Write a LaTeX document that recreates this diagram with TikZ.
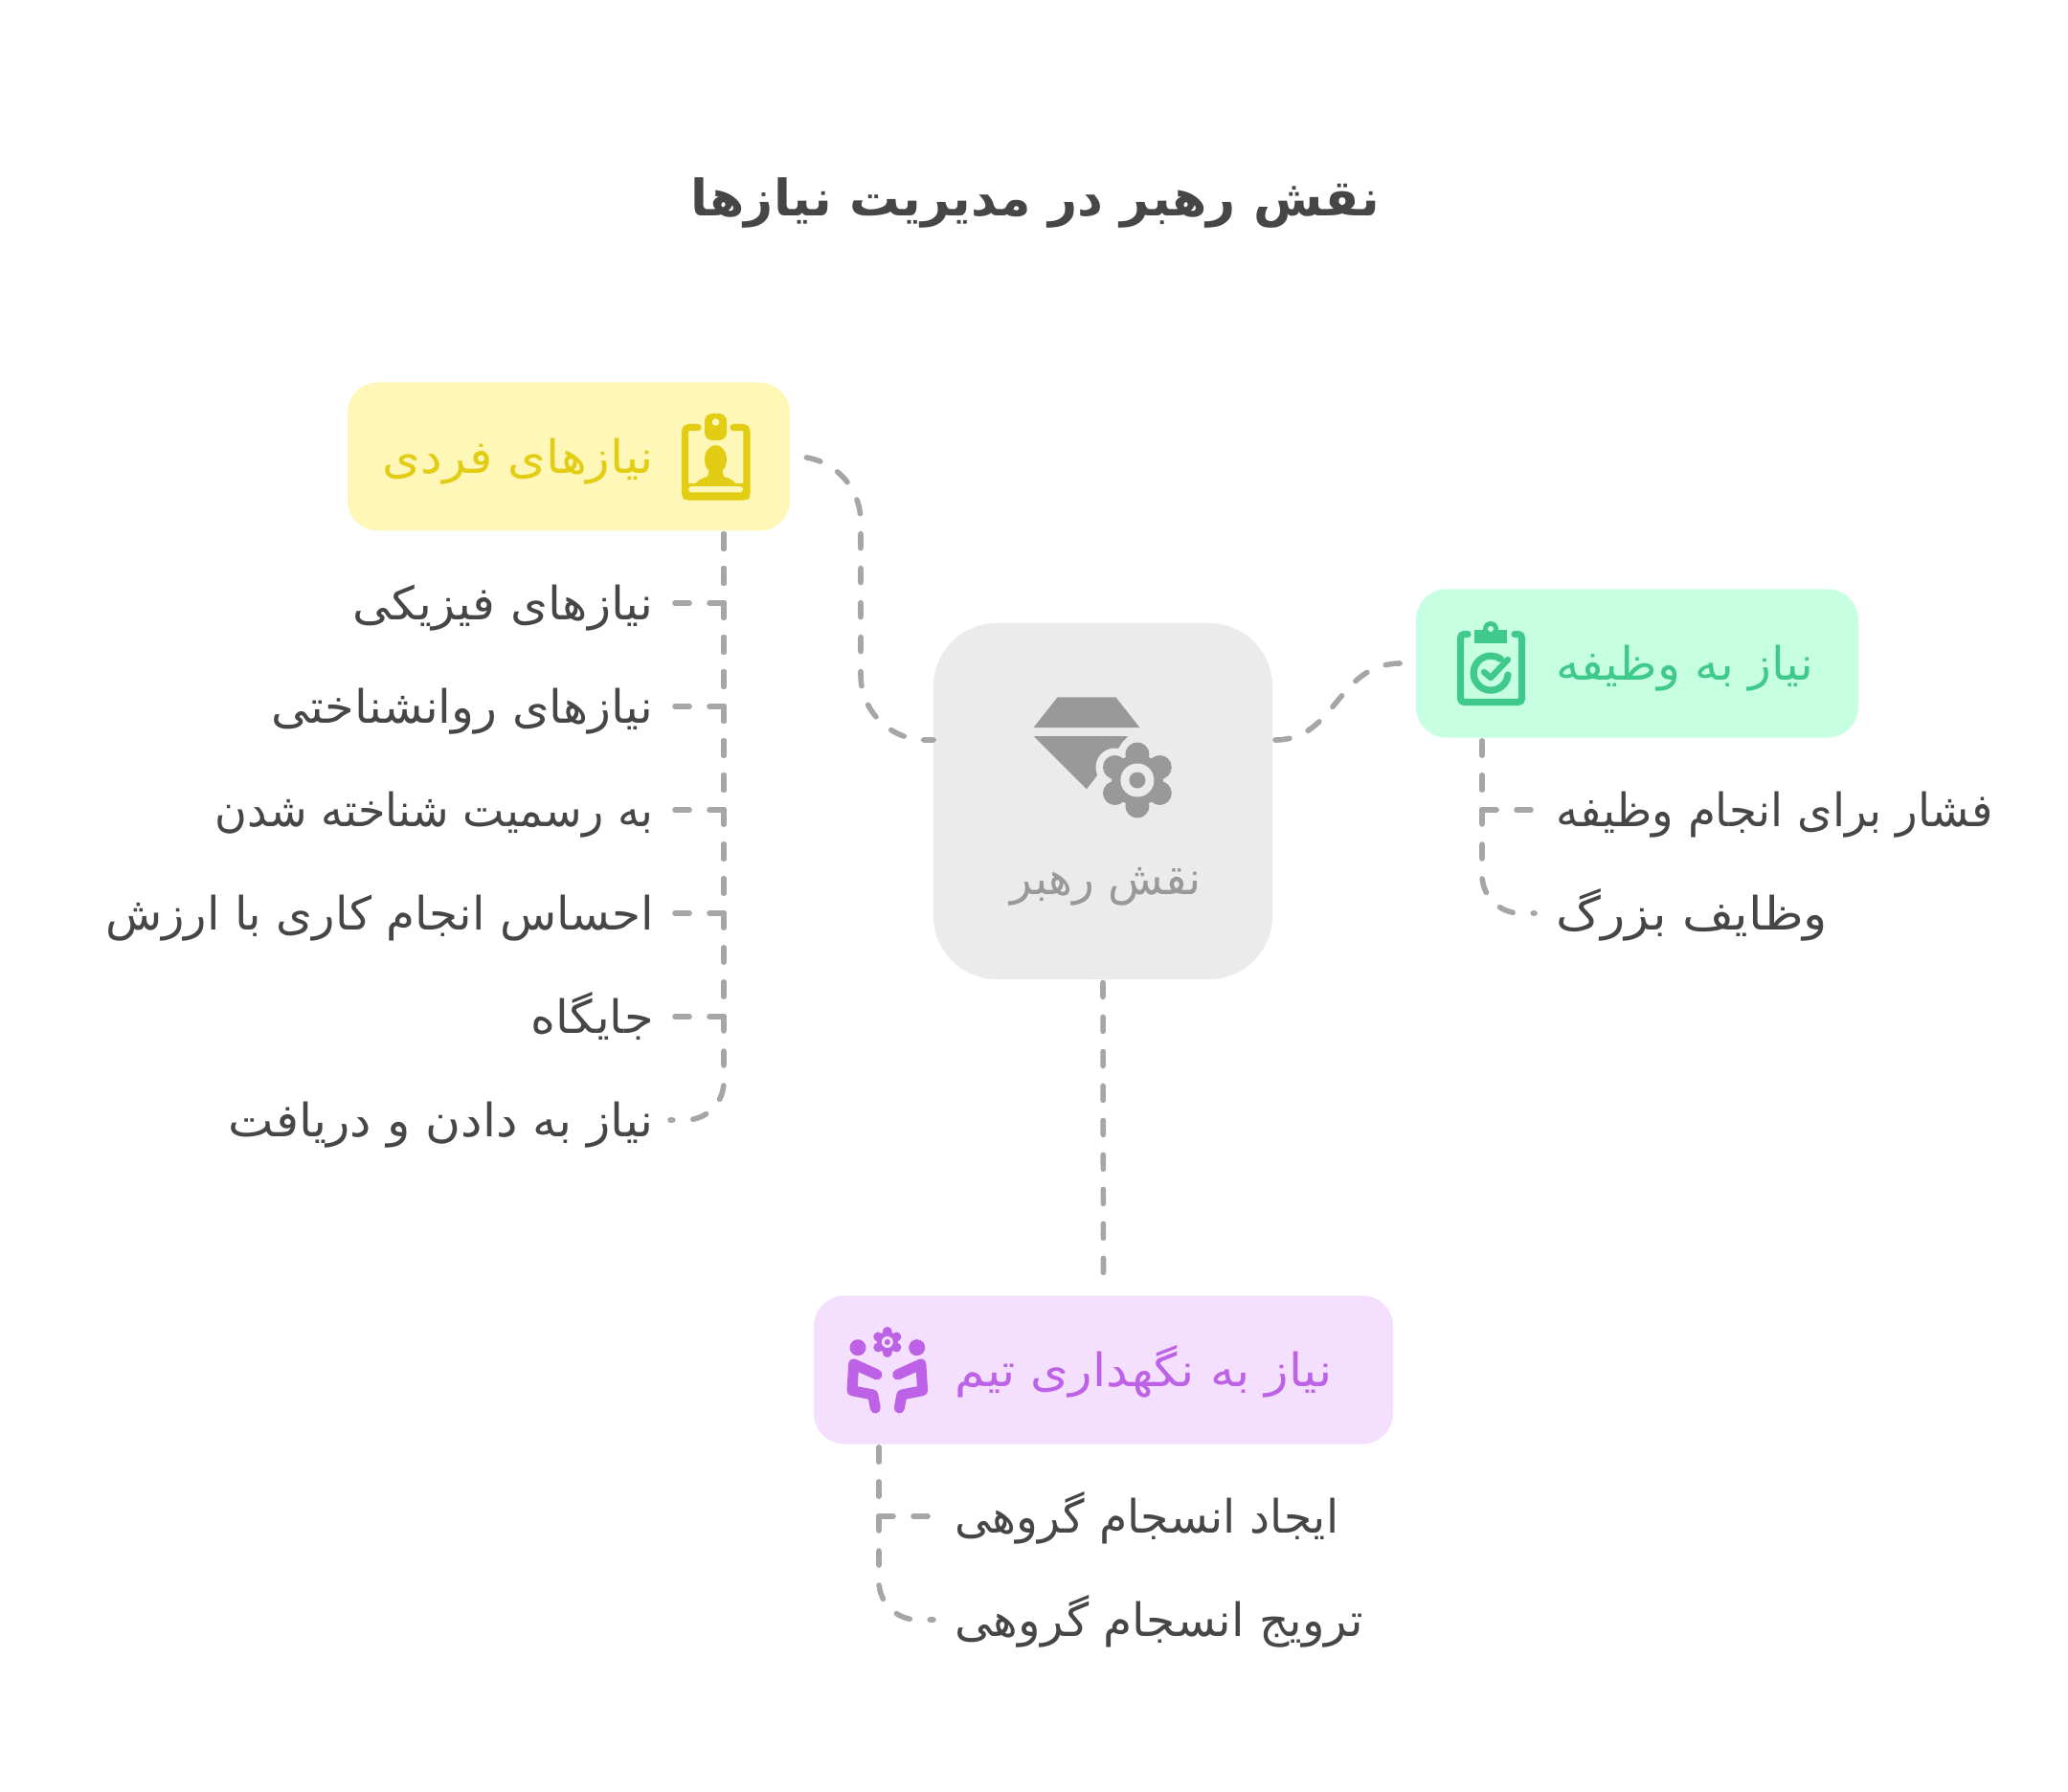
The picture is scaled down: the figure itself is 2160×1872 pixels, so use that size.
\documentclass[tikz,border=0pt]{standalone}
\usepackage{fontspec}
\TeXXeTstate=1
\newfontfamily\fa[Script=Arabic]{DejaVu Sans}
\definecolor{ink}{HTML}{464646}
\definecolor{linkc}{HTML}{A6A6A6}
\definecolor{ybg}{HTML}{FFF7B8}\definecolor{yfg}{HTML}{E2CD14}
\definecolor{gbg}{HTML}{C7FFE3}\definecolor{gfg}{HTML}{3FC98A}
\definecolor{pbg}{HTML}{F4DFFF}\definecolor{pfg}{HTML}{BD62E6}
\definecolor{cbg}{HTML}{EBEBEB}\definecolor{cfg}{HTML}{999999}
\newcommand{\gearshape}[3]{% centre radius, petal distance, petal radius
  \fill (0,0) circle[radius=#1];
  \foreach \a in {30,90,...,330}{\fill (\a:#2) circle[radius=#3];}
}
\tikzset{
  card/.style={rectangle,rounded corners=16pt,minimum width=231pt,minimum height=77.5pt,inner sep=0pt},
  lab/.style={inner sep=0pt,text height=22.5pt,text depth=5pt,font=\fa\fontsize{24}{28}\selectfont},
  item/.style={lab,text=ink},
  link/.style={draw=linkc,line width=2.8pt,line cap=round,line join=round,dash pattern=on 7.5pt off 10.5pt},
}
\begin{document}
\begin{tikzpicture}[x=0.5pt,y=-0.5pt]
\path[use as bounding box] (0,0) rectangle (2160,1872);
% cards
\node[card,fill=ybg] (yellow) at (594,477) {};
\node[card,fill=gbg] (green) at (1710,693) {};
\node[card,fill=pbg,minimum width=302.5pt] (purple) at (1152.5,1431) {};
\node[rectangle,rounded corners=33pt,fill=cbg,minimum width=177pt,minimum height=186pt,inner sep=0pt] (core) at (1152,837) {};
% title
\node[inner sep=0pt,text=ink,font=\fa\bfseries\fontsize{26.2}{30}\selectfont] (title) at (1081.5,212) {\beginR نقش رهبر در مدیریت نیازها\endR};
% labels
\node[lab,text=yfg,anchor=east] (ylab) at (683,477) {\scalebox{1.06}[1]{\beginR نیازهای فردی\endR}};
\node[lab,text=gfg,anchor=west] (glab) at (1625,693) {\scalebox{1.03}[1]{\beginR نیاز به وظیفه\endR}};
\node[lab,text=pfg,anchor=west] (plab) at (997,1431) {\scalebox{1.06}[1]{\beginR نیاز به نگهداری تیم\endR}};
\node[lab,text=cfg] (clab) at (1155,917) {\scalebox{.98}[1]{\beginR نقش رهبر\endR}};
% yellow items
\node[item,anchor=east] (y1) at (683,630) {\scalebox{1.04}[1]{\beginR نیازهای فیزیکی\endR}};
\node[item,anchor=east] (y2) at (683,738) {\scalebox{1.03}[1]{\beginR نیازهای روانشناختی\endR}};
\node[item,anchor=east] (y3) at (683,846) {\scalebox{.96}[1]{\beginR به رسمیت شناخته شدن\endR}};
\node[item,anchor=east] (y4) at (683,954) {\scalebox{1.01}[1]{\beginR احساس انجام کاری با ارزش\endR}};
\node[item,anchor=east] (y5) at (683,1062) {\scalebox{1.03}[1]{\beginR جایگاه\endR}};
\node[item,anchor=east] (y6) at (683,1170) {\scalebox{1.05}[1]{\beginR نیاز به دادن و دریافت\endR}};
% green items
\node[item,anchor=west] (g1) at (1625,846) {\scalebox{.975}[1]{\beginR فشار برای انجام وظیفه\endR}};
\node[item,anchor=west] (g2) at (1625,954) {\scalebox{1.09}[1]{\beginR وظایف بزرگ\endR}};
% purple items
\node[item,anchor=west] (p1) at (997,1584) {\scalebox{.985}[1]{\beginR ایجاد انسجام گروهی\endR}};
\node[item,anchor=west] (p2) at (997,1692) {\scalebox{1.015}[1]{\beginR ترویج انسجام گروهی\endR}};
% junction coordinates
\coordinate (cl) at (975,773);
\coordinate (cr) at (1329,773);
\coordinate (ge) at (1463,693);
\coordinate (yc) at (899,477);
\coordinate (ys) at (756,558);
\coordinate (gs) at (1548,774);
\coordinate (ps) at (918,1512);
% main connectors
\draw[link,rounded corners=34pt,dash phase=9.5pt] (yellow.east) -- (yc) -- (yc |- cl) -- (cl);
\draw[link,shorten <=1.5pt] (cr) .. controls (1396,773) and (1396,693) .. (ge);
\draw[link,shorten <=1.5pt,shorten >=7pt] (core.south) -- (purple.north);
% yellow branches
\foreach \n in {y1,y2,y3,y4,y5}{\draw[link,shorten >=10pt] (ys) |- (\n.east);}
\draw[link,rounded corners=20pt,shorten >=8.5pt] (ys) |- (y6.east);
% green branches
\draw[link,shorten >=11pt] (gs) |- (g1.west);
\draw[link,rounded corners=20pt,shorten >=11pt] (gs) |- (g2.west);
% purple branches
\draw[link,shorten >=11pt] (ps) |- (p1.west);
\draw[link,rounded corners=20pt,shorten >=11pt] (ps) |- (p2.west);
% yellow icon
\begin{scope}[yfg]
\draw[line width=3.6pt,rounded corners=2pt,line cap=round] (729,446.5) -- (715.5,446.5) -- (715.5,519) -- (780,519) -- (780,446.5) -- (766,446.5);
\fill[even odd rule,rounded corners=4pt] (736,432) rectangle (759,460) (747.5,441) circle[radius=4];
\fill (747.5,480) ellipse[x radius=11.5,y radius=15];
\fill (741,490) -- (754,490) -- (756,498) .. controls (764,500) and (768,503) .. (769,507) -- (726,507) .. controls (727,503) and (731,500) .. (739,498) -- cycle;
\fill[even odd rule,rounded corners=1.5pt] (713,505) rectangle (783,522) (719,508) rectangle (776,514.5);
\end{scope}
% green icon
\begin{scope}[gfg]
\draw[line width=3.6pt,rounded corners=2pt,line cap=round] (1533,662.5) -- (1525.5,662.5) -- (1525.5,733.5) -- (1589.5,733.5) -- (1589.5,662.5) -- (1582,662.5);
\fill (1540,658) rectangle (1574,672);
\fill (1557,657) circle[radius=8];
\fill[gbg] (1557,657) circle[radius=3];
\draw[line width=3.6pt,line cap=round] (1575,705) arc[start angle=6,end angle=305,radius=18,y=0.5pt,x=-0.5pt] ;
\draw[line width=3.2pt,line cap=round,line join=round] (1550,702) -- (1557,708) -- (1575,689);
\end{scope}
% purple icon
\fill[pfg] (896,1407.7) circle[radius=8.5];
\fill[pfg] (957.7,1407.7) circle[radius=8.5];
\begin{scope}[pfg,shift={(926.8,1402)}]
\gearshape{11}{11}{5}
\fill[pbg] (0,0) circle[radius=6];
\fill (0,0) circle[radius=3];
\end{scope}
\draw[pfg,line width=5.5pt,line cap=round,line join=round] (916,1436) -- (891.7,1425) -- (890,1452.7) -- (911.7,1457) -- (914.3,1471);
\draw[pfg,line width=5.5pt,line cap=round,line join=round] (937.6,1436) -- (961.9,1425) -- (963.6,1452.7) -- (941.9,1457) -- (939.3,1471);
% core icon
\fill[cfg] (1104.6,728.3) -- (1165.4,728.3) -- (1190.4,760) -- (1079.6,760) -- cycle;
\fill[cfg] (1079.6,769) -- (1177.9,769) -- (1135,824.3) -- cycle;
\begin{scope}[shift={(1187.9,815)}]
\begin{scope}[cbg]\gearshape{34}{27}{20}\end{scope}
\begin{scope}[cfg]\gearshape{27}{27}{12.5}\end{scope}
\fill[cbg] (0,0) circle[radius=17.5];
\fill[cfg] (0,0) circle[radius=8.5];
\end{scope}
\end{tikzpicture}
\end{document}
